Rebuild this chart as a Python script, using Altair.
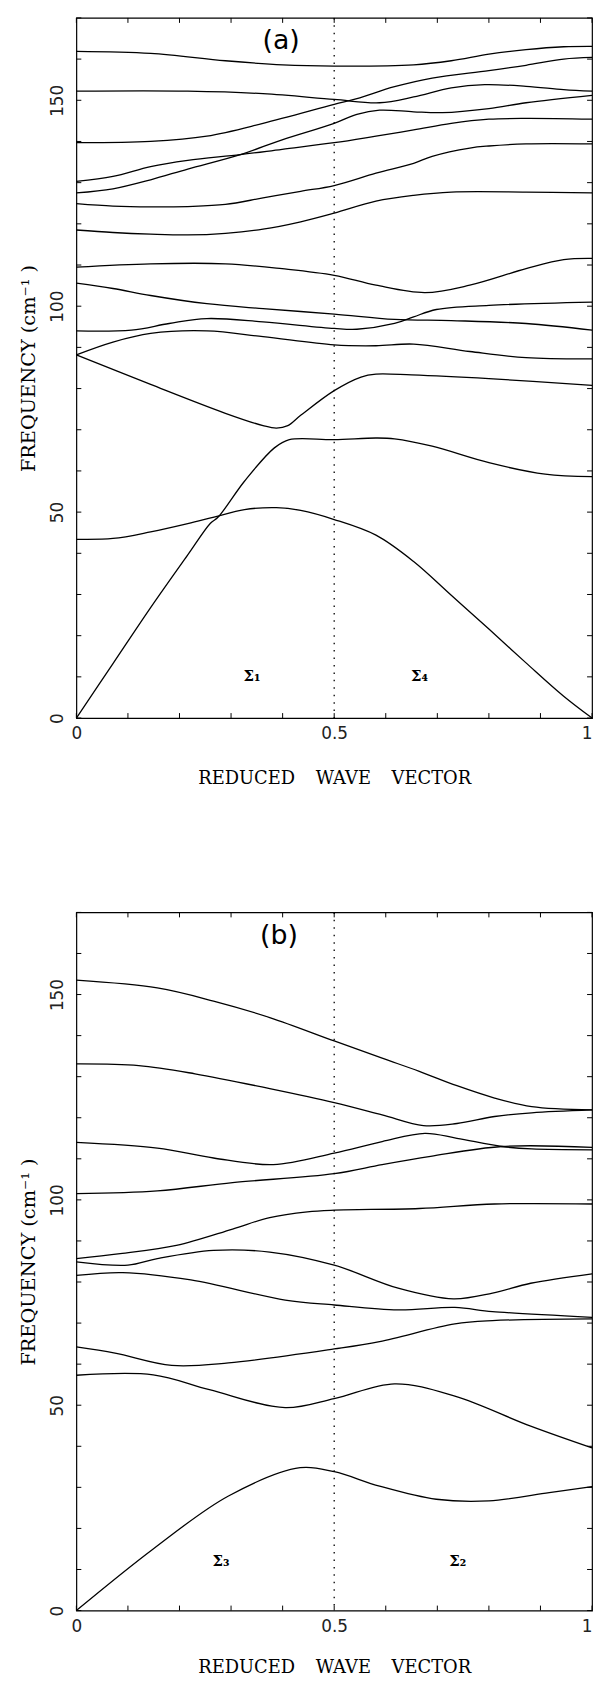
import altair as alt
import pandas as pd

# ---------------- Panel (a): branches as (reduced wave vector, frequency cm^-1)
A1 = [(0, 161.9), (0.144, 161.4), (0.289, 159.6), (0.4, 158.6), (0.5, 158.3), (0.654, 158.6),
      (0.727, 159.6), (0.8, 161.2), (0.872, 162.3), (0.945, 163.0), (1.0, 163.1)]
A2 = [(0, 152.2), (0.216, 152.2), (0.362, 151.6), (0.5, 150.2), (0.588, 149.4), (0.654, 150.8),
      (0.727, 153.0), (0.792, 153.8), (0.872, 153.4), (0.945, 152.6), (1.0, 152.2)]
A3 = [(0, 139.7), (0.144, 140.0), (0.253, 141.3), (0.362, 144.4), (0.5, 149.0), (0.544, 150.4),
      (0.617, 153.3), (0.69, 155.4), (0.8, 157.2), (0.872, 158.5), (0.945, 160.0), (1.0, 160.4)]
A4 = [(0, 130.3), (0.071, 131.5), (0.144, 133.9), (0.216, 135.4), (0.318, 136.8), (0.399, 138.1),
      (0.5, 139.7), (0.581, 141.3), (0.654, 142.8), (0.727, 144.4), (0.8, 145.4), (0.872, 145.6), (1.0, 145.4)]
A5 = [(0, 127.5), (0.071, 128.5), (0.144, 130.7), (0.216, 133.3), (0.318, 136.8), (0.399, 140.4),
      (0.5, 144.4), (0.544, 146.6), (0.588, 147.6), (0.654, 147.2), (0.71, 147.0), (0.8, 148.0),
      (0.872, 149.4), (1.0, 151.2)]
A6 = [(0, 124.9), (0.071, 124.3), (0.144, 124.1), (0.216, 124.2), (0.289, 124.7), (0.362, 126.3),
      (0.435, 127.9), (0.5, 129.3), (0.581, 132.3), (0.654, 134.7), (0.69, 136.4), (0.763, 138.4),
      (0.8, 138.9), (0.872, 139.4), (1.0, 139.4)]
A7 = [(0, 118.5), (0.071, 117.9), (0.144, 117.5), (0.216, 117.3), (0.289, 117.7), (0.362, 118.7),
      (0.435, 120.5), (0.5, 122.6), (0.581, 125.5), (0.654, 126.9), (0.727, 127.7), (0.872, 127.7), (1.0, 127.5)]
A8 = [(0, 109.5), (0.144, 110.3), (0.289, 110.3), (0.399, 109.1), (0.5, 107.5), (0.581, 105.1),
      (0.676, 103.3), (0.763, 105.1), (0.872, 109.1), (0.945, 111.3), (1.0, 111.6)]
A9 = [(0, 105.6), (0.071, 104.3), (0.144, 102.6), (0.253, 100.6), (0.362, 99.4), (0.5, 98.1),
      (0.617, 96.8), (0.727, 96.5), (0.872, 95.8), (1.0, 94.2)]
A10 = [(0, 94.0), (0.107, 94.2), (0.18, 95.8), (0.253, 97.0), (0.362, 96.2), (0.5, 94.6), (0.544, 94.4),
       (0.617, 95.8), (0.654, 97.4), (0.698, 99.2), (0.8, 100.2), (1.0, 101.0)]
A11 = [(0, 88.2), (0.071, 91.3), (0.144, 93.4), (0.253, 94.0), (0.362, 92.6), (0.5, 90.6),
       (0.581, 90.4), (0.654, 90.8), (0.763, 89.0), (0.872, 87.5), (1.0, 87.2)]
A12 = [(0, 88.2), (0.144, 81.0), (0.289, 74.0), (0.362, 71.0), (0.388, 70.4), (0.41, 71.0),
       (0.435, 73.5), (0.5, 79.5), (0.552, 82.8), (0.581, 83.5), (0.65, 83.3), (0.8, 82.4), (1.0, 80.8)]
A13 = [(0, 0.0), (0.071, 13.2), (0.144, 26.8), (0.216, 39.6), (0.26, 47.3), (0.275, 48.8),
       (0.326, 57.5), (0.384, 65.6), (0.413, 67.6), (0.5, 67.6), (0.581, 68.0), (0.617, 67.8),
       (0.69, 66.0), (0.8, 62.0), (0.909, 59.2), (1.0, 58.6)]
A14 = [(0, 43.4), (0.071, 43.6), (0.144, 45.2), (0.216, 47.2), (0.267, 48.8), (0.326, 50.6),
       (0.388, 51.1), (0.435, 50.4), (0.5, 48.2), (0.581, 44.4), (0.654, 38.0), (0.727, 29.8),
       (0.8, 21.6), (0.872, 13.4), (0.945, 5.3), (1.0, 0.0)]

# ---------------- Panel (b)
B1 = [(0, 153.5), (0.157, 151.6), (0.266, 148.4), (0.375, 144.4), (0.5, 138.7), (0.593, 134.5),
      (0.665, 131.3), (0.738, 127.8), (0.811, 124.8), (0.883, 122.7), (1.0, 121.9)]
B2 = [(0, 133.1), (0.121, 132.7), (0.23, 130.7), (0.375, 127.1), (0.5, 123.7), (0.593, 120.7),
      (0.673, 118.1), (0.738, 118.6), (0.811, 120.3), (0.883, 121.2), (1.0, 121.9)]
B3 = [(0, 114.0), (0.157, 112.6), (0.266, 110.2), (0.382, 108.6), (0.5, 111.4), (0.593, 114.2),
      (0.676, 116.2), (0.738, 115.0), (0.825, 113.0), (0.883, 112.4), (1.0, 112.2)]
B4 = [(0, 101.5), (0.157, 102.2), (0.303, 104.2), (0.5, 106.4), (0.593, 108.6), (0.687, 110.6),
      (0.825, 113.0), (1.0, 112.8)]
B5 = [(0, 85.7), (0.085, 86.9), (0.194, 88.9), (0.303, 92.9), (0.375, 95.7), (0.448, 97.1),
      (0.5, 97.5), (0.665, 97.9), (0.811, 99.0), (1.0, 99.0)]
B6 = [(0, 84.9), (0.1, 84.1), (0.157, 85.7), (0.266, 87.7), (0.375, 87.3), (0.5, 84.1),
      (0.624, 78.5), (0.731, 75.9), (0.807, 77.3), (0.881, 79.7), (1.0, 82.0)]
B7 = [(0, 81.6), (0.09, 82.3), (0.222, 80.5), (0.405, 75.6), (0.5, 74.4), (0.624, 73.2),
      (0.734, 73.8), (0.807, 72.8), (1.0, 71.4)]
B8 = [(0, 64.2), (0.075, 62.7), (0.185, 59.7), (0.295, 60.3), (0.5, 63.7), (0.588, 65.5),
      (0.734, 69.8), (0.807, 70.6), (1.0, 71.0)]
B9 = [(0, 57.3), (0.149, 57.4), (0.258, 53.8), (0.405, 49.4), (0.5, 51.6), (0.617, 55.2),
      (0.734, 52.2), (0.881, 44.9), (1.0, 39.6)]
B10 = [(0, 0.0), (0.149, 15.0), (0.295, 27.9), (0.434, 34.8), (0.5, 33.8), (0.588, 30.3),
       (0.698, 27.1), (0.8, 26.7), (0.917, 28.7), (1.0, 30.2)]

# ---------------- Axis / annotation values
X_LABELS = [0, 0.5, 1]
Y_LABELS = [0, 50, 100, 150]
X_TICKS = [0.0, 0.1, 0.2, 0.3, 0.4, 0.5, 0.6, 0.7, 0.8, 0.9, 1.0]
Y_TICKS = [0, 10, 20, 30, 40, 50, 60, 70, 80, 90, 100, 110, 120, 130, 140, 150, 160, 170]
ZONE_MID = [0.5]
PANEL_A_LABEL = [(0.397, 164.4, "(a)")]
PANEL_B_LABEL = [(0.393, 164.3, "(b)")]
SIGMA_A = [(0.324, 9.1, "Σ₁"), (0.649, 9.1, "Σ₄")]
SIGMA_B = [(0.264, 10.8, "Σ₃"), (0.723, 10.8, "Σ₂")]

X_TITLE = "REDUCED\u00a0\u00a0\u00a0\u2009WAVE\u00a0\u00a0\u00a0\u2009VECTOR"
Y_TITLE = "FREQUENCY (cm⁻¹ )"

W = 520
XDOM = [0, 1]
YDOM = [0, 170]


def lines_df(branches):
    rows = []
    for name, pts in branches.items():
        for x, y in pts:
            rows.append({"branch": name, "q": x, "f": y})
    return pd.DataFrame(rows)


def text_df(items):
    return pd.DataFrame([{"q": x, "f": y, "t": t} for x, y, t in items])


def panel(branches, label, sigmas, height, title_y):
    xs = alt.Scale(domain=XDOM, nice=False, zero=False)
    ys = alt.Scale(domain=YDOM, nice=False, zero=False)
    x_axis = alt.Axis(values=X_LABELS, format="~g", labelFlush=False, labelPadding=8,
                      labelAlign={"expr": "datum.value >= 1 ? 'right' : 'center'"},
                      title=X_TITLE, titleY=title_y, titleBaseline="alphabetic")
    y_axis = alt.Axis(values=Y_LABELS, labelAngle=270, labelAlign="center",
                      labelBaseline="alphabetic", labelPadding=14,
                      title=Y_TITLE, titleX=-42, titleY=height / 2, titleFontSize=19.5,
                      titleAngle=270, titleBaseline="alphabetic", titleAlign="center")
    X = lambda: alt.X("q:Q", scale=xs, axis=x_axis, title=X_TITLE)
    Y = lambda: alt.Y("f:Q", scale=ys, axis=y_axis, title=Y_TITLE)

    curves = alt.Chart(lines_df(branches)).mark_line(
        interpolate="catmull-rom", color="black", strokeWidth=1.3
    ).encode(x=X(), y=Y(), detail="branch:N", order="q:Q")

    mid = alt.Chart(pd.DataFrame({"q": ZONE_MID})).mark_rule(
        color="black", strokeWidth=1.3, strokeDash=[1.5, 6]
    ).encode(x=X())

    ydf = pd.DataFrame({"f": Y_TICKS})
    xdf = pd.DataFrame({"q": X_TICKS})
    tl = alt.Chart(ydf).mark_rule(color="black", strokeWidth=1).encode(
        y=Y(), x=alt.value(0), x2=alt.value(5))
    tr = alt.Chart(ydf).mark_rule(color="black", strokeWidth=1).encode(
        y=Y(), x=alt.value(W - 5), x2=alt.value(W))
    tb = alt.Chart(xdf).mark_rule(color="black", strokeWidth=1).encode(
        x=X(), y=alt.value(height - 5), y2=alt.value(height))
    tt = alt.Chart(xdf).mark_rule(color="black", strokeWidth=1).encode(
        x=X(), y=alt.value(0), y2=alt.value(5))

    lab = alt.Chart(text_df(label)).mark_text(
        font="DejaVu Sans", fontSize=27, align="center", baseline="middle", color="black"
    ).encode(x=X(), y=Y(), text="t:N")
    sig = alt.Chart(text_df(sigmas)).mark_text(
        font="DejaVu Serif", fontSize=15, fontWeight="bold", align="left",
        baseline="alphabetic", color="black"
    ).encode(x=X(), y=Y(), text="t:N")

    return alt.layer(curves, mid, tl, tr, tb, tt, lab, sig).properties(width=W, height=height)


branches_a = {"a1": A1, "a2": A2, "a3": A3, "a4": A4, "a5": A5, "a6": A6, "a7": A7,
              "a8": A8, "a9": A9, "a10": A10, "a11": A11, "a12": A12, "a13": A13, "a14": A14}
branches_b = {"b1": B1, "b2": B2, "b3": B3, "b4": B4, "b5": B5, "b6": B6, "b7": B7,
              "b8": B8, "b9": B9, "b10": B10}

pa = panel(branches_a, PANEL_A_LABEL, SIGMA_A, 706, 66)
pb = panel(branches_b, PANEL_B_LABEL, SIGMA_B, 704, 62)

chart = alt.vconcat(pa, pb, spacing=196, bounds="flush").properties(
    padding={"left": 18, "top": 9, "right": 0, "bottom": 0},
    background="white",
).configure_view(
    stroke="black", strokeWidth=1.2
).configure_axis(
    labelFont="DejaVu Sans", labelFontSize=17, labelColor="#222",
    titleFont="DejaVu Serif", titleFontSize=18, titleFontWeight="normal", titleColor="black",
    ticks=False, domain=False, grid=False
)

chart.save("out.html", embed_options={"renderer": "svg", "actions": False})
